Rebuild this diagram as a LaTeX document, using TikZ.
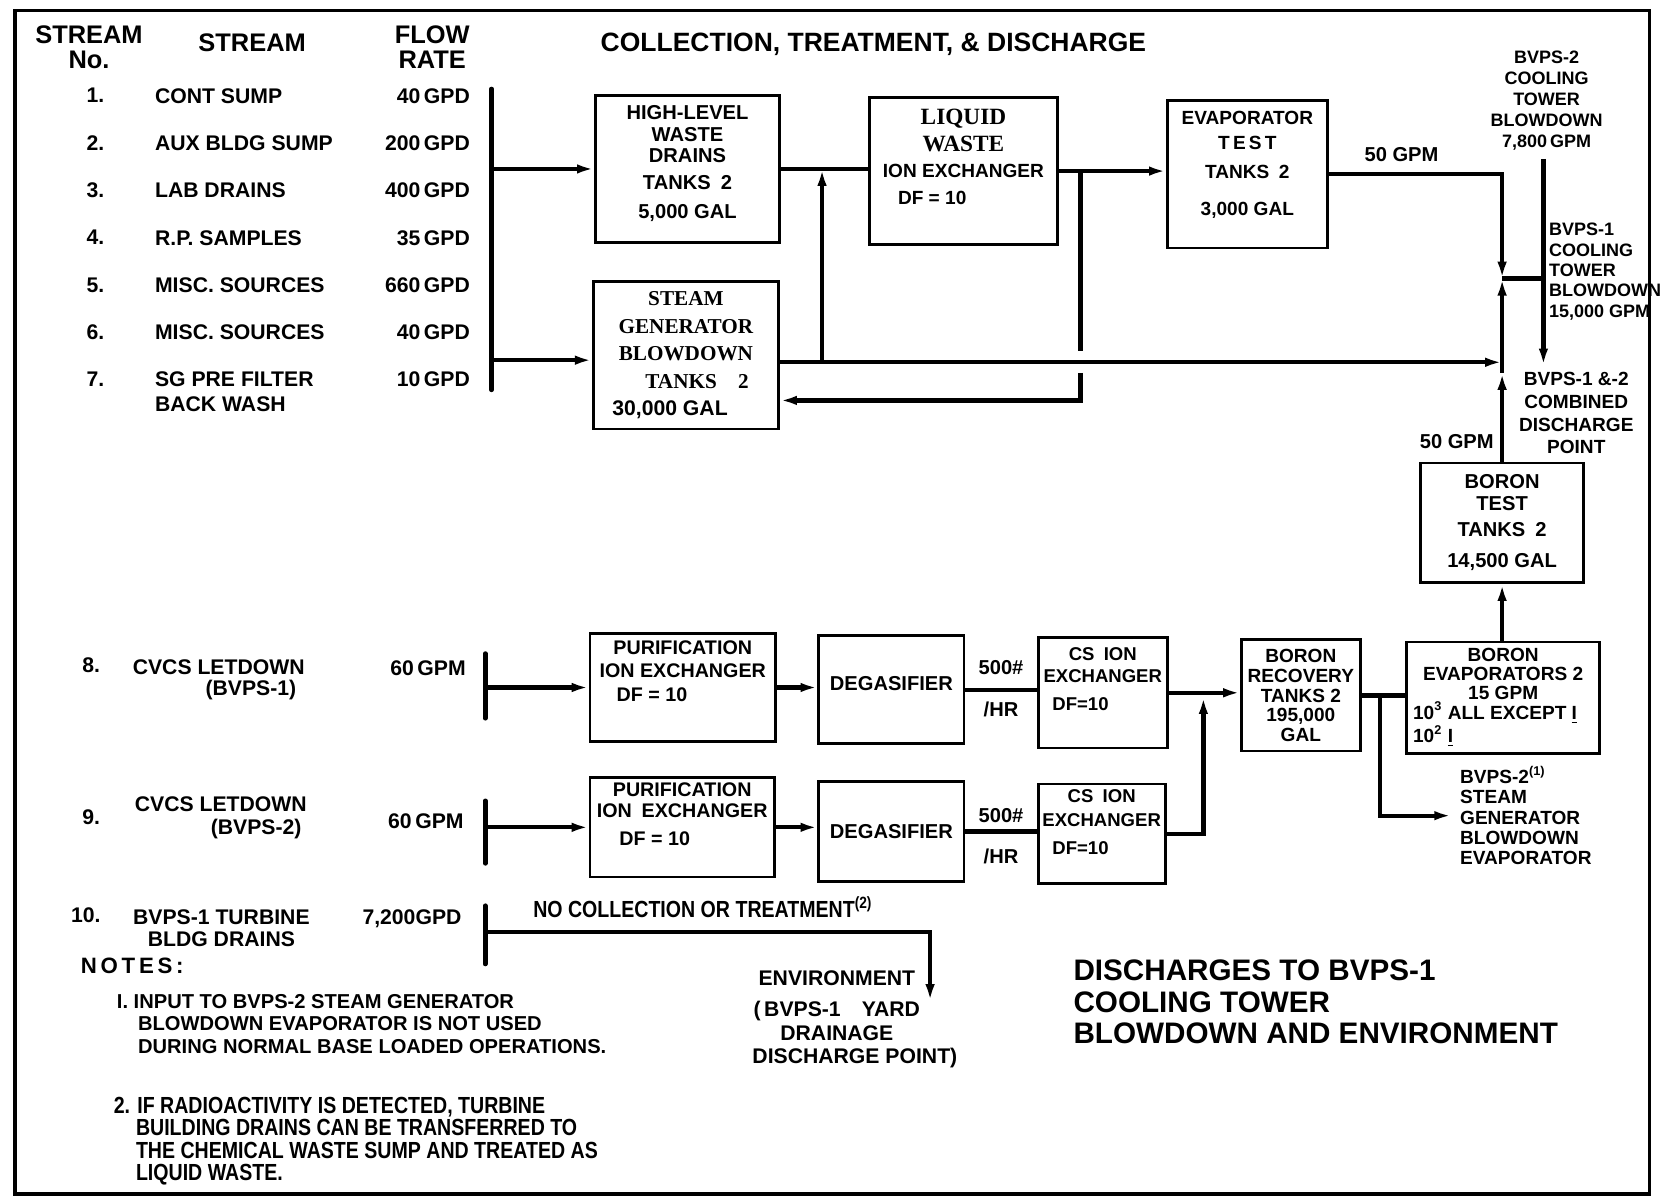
\documentclass[tikz,border=0pt]{standalone}
\usepackage{fontspec}
\setmainfont{Liberation Sans}
\newfontfamily\serifb{Liberation Serif}
\newfontfamily\narrowf[FakeStretch=0.84]{Liberation Sans}
\newcommand{\fsz}[2]{\fontsize{#1}{#2}\selectfont\bfseries}
\usetikzlibrary{arrows.meta,positioning,calc}

\begin{document}
\begin{tikzpicture}[
  x=0.5pt, y=-0.5pt,
  font=\fsz{10}{12},
  tank/.style={draw, line width=1.3pt, align=center, inner sep=0pt},
  ln/.style={line width=2pt},
  arr/.style={ln, -{Latex[length=8pt,width=4.5pt]}},
  bar/.style={line width=2.2pt, line cap=round},
  lbl/.style={inner sep=1pt, font=\fsz{9.5}{11}},
  txt/.style={inner sep=0pt, align=left},
]
\useasboundingbox (0,0) rectangle (1568,1135);
\draw[line width=1.6pt] (14,10) rectangle (1557,1127);

\node[txt, align=center, font=\fsz{12}{11.5}] (hno) at (84,44.5) {STREAM\\No.};
\node[txt, font=\fsz{12}{12}] (hstream) at (238,40) {STREAM};
\node[txt, align=center, font=\fsz{12}{11.5}] (hflow) at (408,44.5) {FLOW\\RATE};
\node[txt, font=\fsz{12.5}{12}] (hcoll) at (824.5,42) {COLLECTION, TREATMENT, \& DISCHARGE};

\node[txt, anchor=north, align=center, font=\fsz{10}{22.33}] (nums) at (90,83) {1.\\2.\\3.\\4.\\5.\\6.\\7.};
\node[txt, anchor=north west, font=\fsz{10}{22.33}] (names) at (146,83) {CONT SUMP\\AUX BLDG SUMP\\LAB DRAINS\\R.P. SAMPLES\\MISC. SOURCES\\MISC. SOURCES\\SG PRE FILTER\\[-10.83pt]BACK WASH};
\node[txt, anchor=north east, align=right, font=\fsz{10}{22.33}] (rates) at (444,83) {40\,GPD\\200\,GPD\\400\,GPD\\35\,GPD\\660\,GPD\\40\,GPD\\10\,GPD};

\node[tank, minimum width=87pt, minimum height=69.5pt, font=\fsz{9.5}{10.25}] (hlw) at (649,159.5) {HIGH-LEVEL\\WASTE\\DRAINS\\[2.25pt]TANKS\enspace 2\\[3.75pt]5,000 GAL\\[-3.75pt]\mbox{}};
\node[tank, minimum width=87.5pt, minimum height=69.5pt, font=\fsz{10}{13}] (sg) at (647.5,335.5) {{\serifb STEAM}\\{\serifb GENERATOR}\\{\serifb BLOWDOWN}\\{\serifb\hspace*{10.5pt}TANKS\quad 2}\\\hspace*{-15pt}30,000 GAL};
\node[tank, minimum width=88.5pt, minimum height=69.5pt, font=\fsz{9}{12.67}] (lw) at (909.5,161.5) {{\serifb\fontsize{11}{12.67}\selectfont LIQUID}\\{\serifb\fontsize{11}{12.67}\selectfont WASTE}\\ION EXCHANGER\\\hspace*{-29.5pt}DF = 10\\[0.8pt]\mbox{}};
\node[tank, minimum width=75.5pt, minimum height=69.5pt, font=\fsz{9}{12}] (evt) at (1177.5,164.5) {EVAPORATOR\\T\,E\,S\,T\\[1.5pt]TANKS\enspace 2\\[5.5pt]3,000 GAL\\[-1.5pt]\mbox{}};
\node[tank, minimum width=77pt, minimum height=56.5pt, font=\fsz{9.5}{10.5}] (bt) at (1418,493.5) {BORON\\TEST\\[1.5pt]TANKS\enspace 2\\[4.5pt]14,500 GAL};

\coordinate (b1t) at (464,84);
\coordinate (b1b) at (464,368);
\coordinate (sgin) at ($(sg.west)+(0,4.5)$);
\coordinate (sgout) at ($(sg.east)+(0,6.5)$);
\coordinate (sgret) at ($(sg.east)+(0,42.5)$);
\coordinate (rise) at (776,342);
\coordinate (rx) at (1020,352);
\coordinate (jt) at (1418,263);
\coordinate (xj) at (1418,352);
\coordinate (ct2) at (1457,150);
\coordinate (dp) at (1457,345);
\draw[bar] (b1t) -- (b1b);
\draw[arr] (b1t |- hlw.west) -- (hlw.west);
\draw[arr] (b1t |- sgin) -- (sgin);
\draw[ln] (hlw.east) -- (hlw.east -| lw.west);
\draw[arr] (rise) -- (rise |- hlw.east);
\draw[arr] (lw.east) -- (lw.east -| evt.west);
\draw[ln] (rx |- lw.east) -- ++(0,170);
\draw[arr] (rx) |- (sgret);
\draw[arr] (sgout) -- (sgout -| xj);
\draw[arr] (evt.east) -| node[lbl, pos=0.21, above=4pt] (g50a) {50 GPM} (jt);
\draw[arr] (bt.north) -- node[lbl, pos=0.22, left=2pt] (g50b) {50 GPM} (xj);
\draw[arr] (xj) -- (jt);
\draw[ln] (jt) -- (jt -| ct2);
\draw[arr] (ct2) -- (dp);

\node[txt, align=center, font=\fsz{8.5}{10}] (ct2lab) at (1460,95) {BVPS-2\\COOLING\\TOWER\\BLOWDOWN\\7,800\,GPM};
\node[txt, anchor=west, font=\fsz{8.5}{9.6}] (ct1lab) at (1462,256.5) {BVPS-1\\COOLING\\TOWER\\BLOWDOWN\\15,000 GPM};
\node[txt, align=center, font=\fsz{9}{10.7}] (dplab) at (1488,390) {BVPS-1 \&-2\\COMBINED\\DISCHARGE\\POINT};

\node[txt] (n8) at (86,628) {8.};
\node[txt, anchor=north east, align=right, font=\fsz{10}{10}] (s8) at (288,622) {CVCS LETDOWN\\(BVPS-1)\hspace*{4pt}};
\node[txt, anchor=east] (q8) at (440,631) {60\,GPM};
\node[txt] (n9) at (86,771) {9.};
\node[txt, anchor=north east, align=right, font=\fsz{10}{10.5}] (s9) at (290,752) {CVCS LETDOWN\\(BVPS-2)\hspace*{2.5pt}};
\node[txt, anchor=east] (q9) at (438,775) {60\,GPM};
\node[txt] (n10) at (81,864) {10.};
\node[txt, anchor=north, align=center, font=\fsz{10}{10.5}] (s10) at (209,858) {BVPS-1 TURBINE\\BLDG DRAINS};
\node[txt, anchor=east] (q10) at (436,867) {7,200GPD};

\node[tank, minimum width=87.5pt, minimum height=51pt, font=\fsz{9.3}{11}] (px1) at (644.5,649) {PURIFICATION\\ION EXCHANGER\\[0.5pt]\hspace*{-29pt}DF = 10\\[4.5pt]\mbox{}};
\node[tank, minimum width=68.5pt, minimum height=51pt, font=\fsz{9.5}{12}] (dg1) at (841.5,651) {DEGASIFIER\\[-6pt]\mbox{}};
\node[tank, minimum width=61pt, minimum height=52pt, font=\fsz{8.75}{10.5}] (cs1) at (1041,654) {CS\enspace ION\\EXCHANGER\\[3pt]\hspace*{-21pt}DF=10\\[2.5pt]\mbox{}};
\node[tank, minimum width=56pt, minimum height=52.5pt, font=\fsz{9}{9.25}] (brt) at (1228,656.5) {BORON\\RECOVERY\\TANKS 2\\195,000\\GAL};
\node[tank, minimum width=91pt, minimum height=52.5pt, font=\fsz{9}{9}] (be) at (1419,658.5) {BORON\\EVAPORATORS 2\\15 GPM\\\makebox[85pt][l]{10\textsuperscript{3} ALL EXCEPT \underline{I}}\\\makebox[85pt][l]{10\textsuperscript{2} \underline{I}}};
\node[tank, minimum width=87pt, minimum height=47pt, font=\fsz{9.3}{10}] (px2) at (644,781) {PURIFICATION\\ION\enspace EXCHANGER\\[3.5pt]\hspace*{-26pt}DF = 10\\[2.5pt]\mbox{}};
\node[tank, minimum width=68.5pt, minimum height=47pt, font=\fsz{9.5}{12}] (dg2) at (841.5,785) {DEGASIFIER};
\node[tank, minimum width=60pt, minimum height=47pt, font=\fsz{8.75}{11.5}] (cs2) at (1040,787) {CS\enspace ION\\EXCHANGER\\[2pt]\hspace*{-20pt}DF=10\\[-0.5pt]\mbox{}};

\coordinate (b8t) at (458,617);
\coordinate (b8b) at (458,678);
\coordinate (b9t) at (458,756);
\coordinate (b9b) at (458,815);
\coordinate (b10t) at (458,855);
\coordinate (b10b) at (458,910);
\coordinate (sgbe) at (1370,770);
\coordinate (mg) at (1136,658);
\coordinate (env) at (878,945);
\draw[bar] (b8t) -- (b8b);
\draw[bar] (b9t) -- (b9b);
\draw[bar] (b10t) -- (b10b);
\draw[arr] (b8t |- px1.west) -- (px1.west);
\draw[arr] (px1.east) -- (px1.east -| dg1.west);
\draw[ln] (dg1.east) -- node[lbl, above=5pt] (r1a) {500\#} node[lbl, below=4pt] (r1b) {/HR} (dg1.east -| cs1.west);
\draw[arr] (cs1.east) -- (cs1.east -| brt.west);
\draw[ln] (brt.east) -- (brt.east -| be.west);
\draw[arr] ($(brt.east)!0.42!(be.west)$) |- (sgbe);
\draw[arr] (bt.south |- be.north) -- (bt.south);
\draw[arr] (b9t |- px2.west) -- (px2.west);
\draw[arr] (px2.east) -- (px2.east -| dg2.west);
\draw[ln] (dg2.east) -- node[lbl, above=2pt] (r2a) {500\#} node[lbl, below=6pt] (r2b) {/HR} (dg2.east -| cs2.west);
\draw[arr] (cs2.east) -| (mg);
\draw[arr] ($(b10t)!0.45!(b10b)$) -| (env);

\node[txt, anchor=west, font=\fsz{9}{9.6}] (sgblab) at (1378,770) {BVPS-2\textsuperscript{(1)}\\STEAM\\GENERATOR\\BLOWDOWN\\EVAPORATOR};
\node[txt, anchor=base west, font=\narrowf\fsz{11}{12}] (nocoll) at (503,866) {NO COLLECTION OR TREATMENT\textsuperscript{(2)}};
\node[txt, align=center, font=\fsz{10}{11}] (envlab) at (790,962) {ENVIRONMENT\\[4pt](\,BVPS-1\quad YARD\\DRAINAGE\\\hspace*{17pt}DISCHARGE POINT)};

\node[txt, anchor=west, font=\fsz{10.5}{12}] (notes) at (76,912) {N\,O\,T\,E\,S\,:};
\node[txt, anchor=north west, font=\fsz{9.5}{10.75}] (note1) at (110,938) {I. INPUT TO BVPS-2 STEAM GENERATOR\\\hspace*{10pt}BLOWDOWN EVAPORATOR IS NOT USED\\\hspace*{10pt}DURING NORMAL BASE LOADED OPERATIONS.};
\node[txt, anchor=north west, font=\narrowf\fsz{11}{10.65}] (note2) at (107,1035) {2. IF RADIOACTIVITY IS DETECTED, TURBINE\\\hspace*{10.5pt}BUILDING DRAINS CAN BE TRANSFERRED TO\\\hspace*{10.5pt}THE CHEMICAL WASTE SUMP AND TREATED AS\\\hspace*{10.5pt}LIQUID WASTE.};
\node[txt, anchor=north west, font=\fsz{14}{14.75}] (title) at (1013,906) {DISCHARGES TO BVPS-1\\COOLING TOWER\\BLOWDOWN AND ENVIRONMENT};
\end{tikzpicture}
\end{document}
